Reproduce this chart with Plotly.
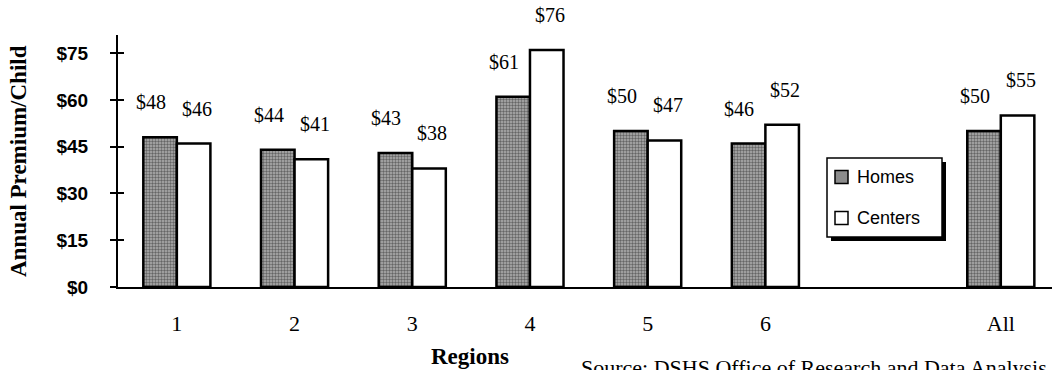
import plotly.graph_objects as go

# Regions (a blank slot separates region 6 from the statewide total)
regions = ["1", "2", "3", "4", "5", "6", " ", "All"]
homes = [48, 44, 43, 61, 50, 46, None, 50]
centers = [46, 41, 38, 76, 47, 52, None, 55]
series_names = ["Homes", "Centers"]
y_ticks = [0, 15, 30, 45, 60, 75]
y_tick_labels = ["$0", "$15", "$30", "$45", "$60", "$75"]

SERIF = "Liberation Serif, Times New Roman, serif"
SANS = "Liberation Sans, Arial, sans-serif"

HOMES_FILL = "#b0b0b0"
HOMES_PATTERN = dict(shape=".", fgcolor="#1a1a1a", bgcolor="#b0b0b0", size=3, solidity=0.5)

fig = go.Figure()
fig.add_trace(go.Bar(
    name=series_names[0], x=regions, y=homes,
    marker=dict(color=HOMES_FILL, line=dict(color="black", width=2.5), pattern=HOMES_PATTERN),
    showlegend=False,
))
fig.add_trace(go.Bar(
    name=series_names[1], x=regions, y=centers,
    marker=dict(color="white", line=dict(color="black", width=2.5)),
    showlegend=False,
))

# Value labels above each bar (x given as category index)
for i, (h, c) in enumerate(zip(homes, centers)):
    if h is not None:
        fig.add_annotation(x=i, y=h, text=f"${h}", showarrow=False, xref="x", yref="y",
                           xshift=-26, yshift=35, yanchor="middle",
                           font=dict(family=SERIF, size=20, color="black"))
    if c is not None:
        fig.add_annotation(x=i, y=c, text=f"${c}", showarrow=False, xref="x", yref="y",
                           xshift=20, yshift=35, yanchor="middle",
                           font=dict(family=SERIF, size=20, color="black"))

# Axis titles and source note
fig.add_annotation(text="<b>Annual Premium/Child</b>", textangle=-90, showarrow=False,
                   xref="paper", yref="paper", x=-0.107, y=0.5, xanchor="center", yanchor="middle",
                   font=dict(family=SERIF, size=23, color="black"))
fig.add_annotation(text="<b>Regions</b>", showarrow=False, xref="paper", yref="paper",
                   x=0.377, y=-0.22, xanchor="center", yanchor="top",
                   font=dict(family=SERIF, size=23, color="black"))
fig.add_annotation(text="Source: DSHS Office of Research and Data Analysis", showarrow=False,
                   xref="paper", yref="paper", x=0.4936, y=-0.262, xanchor="left", yanchor="top",
                   font=dict(family=SERIF, size=22, color="black"))

# Legend box with drop shadow, drawn in paper coordinates
def px_x(p):
    return (p - 118) / 934

def px_y(p):
    return (287 - p) / 252

fig.add_shape(type="rect", xref="paper", yref="paper",
              x0=px_x(831), x1=px_x(946), y0=px_y(241), y1=px_y(162),
              fillcolor="black", line=dict(width=0))
fig.add_shape(type="rect", xref="paper", yref="paper",
              x0=px_x(827), x1=px_x(942), y0=px_y(237), y1=px_y(158),
              fillcolor="white", line=dict(color="black", width=1.5))
legend_rows = [(177, "#8c8c8c"), (218, "white")]
for name, (cy, fill) in zip(series_names, legend_rows):
    fig.add_shape(type="rect", xref="paper", yref="paper",
                  x0=px_x(835), x1=px_x(848), y0=px_y(cy + 6.5), y1=px_y(cy - 6.5),
                  fillcolor=fill, line=dict(color="black", width=1.5))
    fig.add_annotation(text=name, showarrow=False, xref="paper", yref="paper",
                       x=px_x(855), y=px_y(cy), xanchor="left", yanchor="middle",
                       font=dict(family=SANS, size=18, color="black"))

fig.update_layout(
    width=1052, height=370,
    margin=dict(l=118, r=0, t=35, b=83),
    paper_bgcolor="white", plot_bgcolor="rgba(0,0,0,0)",
    barmode="group", bargap=0.43, bargroupgap=0,
    showlegend=False,
    xaxis=dict(
        type="category", categoryorder="array", categoryarray=regions,
        range=[-0.5, 7.435], showline=True, linecolor="black", linewidth=2,
        ticks="", showgrid=False, zeroline=False,
        tickfont=dict(family=SERIF, size=22, color="black"), ticklabelstandoff=16,
    ),
    yaxis=dict(
        range=[0, 80.8], tickvals=y_ticks, ticktext=y_tick_labels,
        showline=True, linecolor="black", linewidth=2,
        ticks="outside", ticklen=6, tickwidth=2, tickcolor="black",
        showgrid=False, zeroline=False, ticklabelstandoff=18,
        tickfont=dict(family=SANS, size=19, color="black", weight="bold"),
    ),
    yaxis2=dict(
        range=[0, 80.8], tickvals=y_ticks, overlaying="y", side="left",
        showline=False, ticks="inside", ticklen=6, tickwidth=2, tickcolor="black",
        showticklabels=False, showgrid=False, zeroline=False,
    ),
)
# invisible trace so the second y axis (inner tick marks) is drawn
fig.add_trace(go.Scatter(x=[regions[0]], y=[0], yaxis="y2", mode="markers",
                         marker=dict(opacity=0), showlegend=False, hoverinfo="skip"))

fig.write_html("out.html")
